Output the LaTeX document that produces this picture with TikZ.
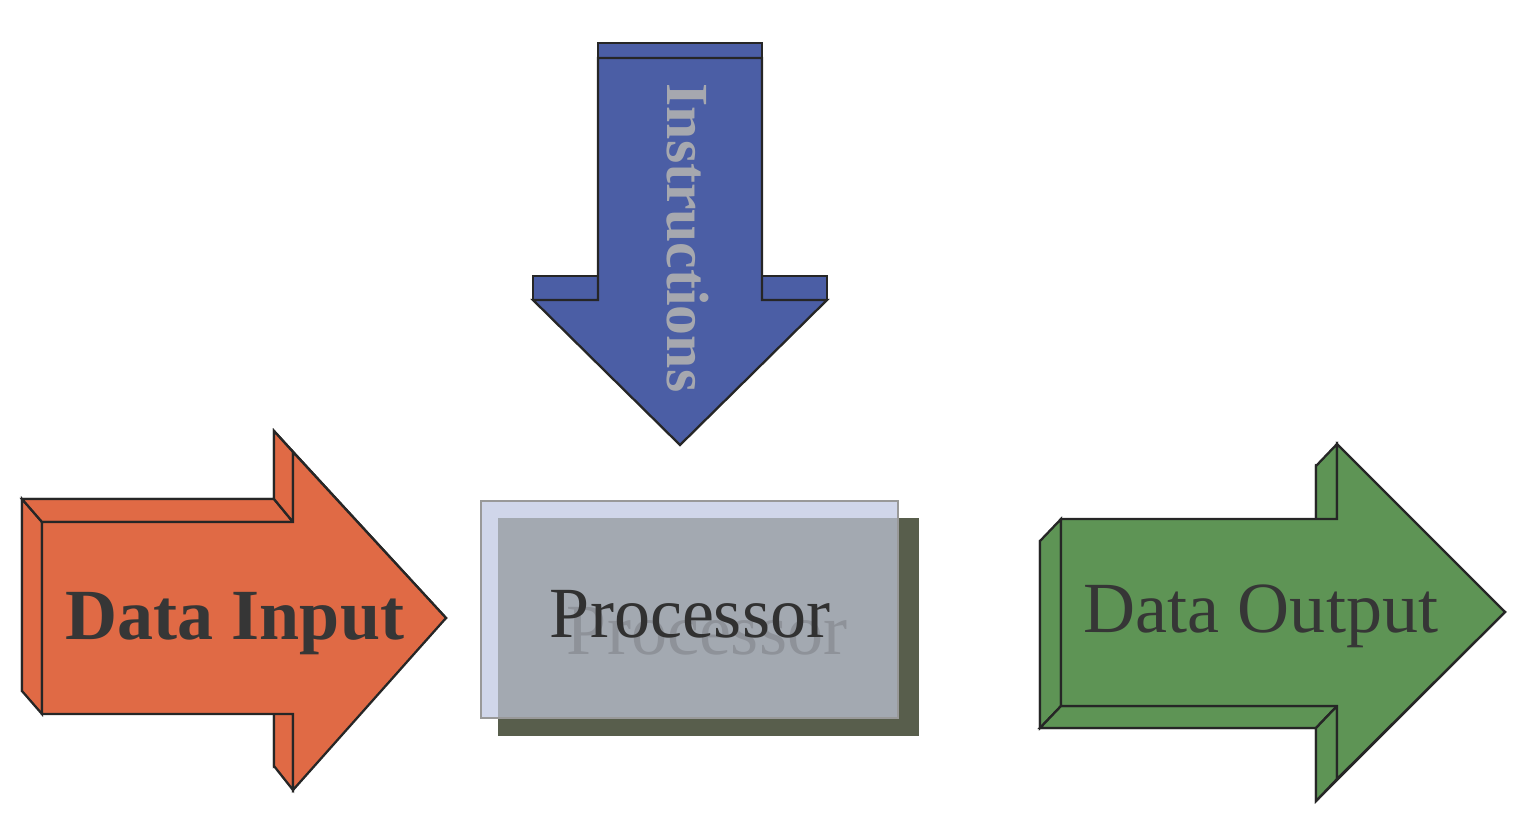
\documentclass[tikz,border=0pt]{standalone}
\usepackage{fontspec}
\setmainfont{Liberation Serif}
\definecolor{orangeA}{HTML}{E06A45}
\definecolor{greenA}{HTML}{5E9455}
\definecolor{blueA}{HTML}{4B5EA5}
\definecolor{lavA}{HTML}{D0D6EA}
\definecolor{shadA}{HTML}{585E4C}
\definecolor{grayA}{HTML}{A3A9B1}
\definecolor{txtA}{HTML}{363636}
\definecolor{instrA}{HTML}{A6A8AF}
\definecolor{ghostA}{HTML}{8E9299}
\begin{document}
\begin{tikzpicture}[x=0.02cm,y=-0.02cm,
  face/.style={draw=black!85, line width=1.3pt, line join=miter},
  lbl/.style={inner sep=0pt, anchor=base, font=\fontsize{41}{41}\selectfont, text=txtA}]
\useasboundingbox (0,0) rectangle (1520,828);

% ---------- Data Input (orange) ----------
\begin{scope}[every path/.style={face, fill=orangeA}]
\path (22,499) -- (274,499) -- (274,431) -- (446,618) -- (274,766) -- (274,691) -- (22,691) -- cycle;
\path (22,499) -- (42,522) -- (42,714) -- (22,691) -- cycle;
\path (22,499) -- (274,499) -- (293,522) -- (42,522) -- cycle;
\path (274,431) -- (293,452) -- (293,522) -- (274,499) -- cycle;
\path (274,691) -- (293,714) -- (293,790) -- (274,766) -- cycle;
\path (42,522) -- (293,522) -- (293,452) -- (446,618) -- (293,790) -- (293,714) -- (42,714) -- cycle;
\end{scope}
\node[lbl, font=\fontsize{41}{41}\selectfont\bfseries] (din) at (235,639) {Data Input};

% ---------- Data Output (green) ----------
\begin{scope}[every path/.style={face, fill=greenA}]
\path (1040,541) -- (1316,541) -- (1316,466) -- (1505,612) -- (1316,801) -- (1316,728) -- (1040,728) -- cycle;
\path (1040,541) -- (1061,519) -- (1061,706) -- (1040,728) -- cycle;
\path (1040,728) -- (1061,706) -- (1337,706) -- (1316,728) -- cycle;
\path (1316,466) -- (1337,444) -- (1337,519) -- (1316,541) -- cycle;
\path (1316,728) -- (1337,706) -- (1337,779) -- (1316,801) -- cycle;
\path (1061,519) -- (1337,519) -- (1337,444) -- (1505,612) -- (1337,779) -- (1337,706) -- (1061,706) -- cycle;
\end{scope}
\node[lbl] (dout) at (1261,632) {Data Output};

% ---------- Instructions (blue) ----------
\begin{scope}[every path/.style={face, fill=blueA}]
\path (598,43) rectangle (762,58);
\path (533,276) rectangle (598,300);
\path (762,276) rectangle (827,300);
\path (598,58) -- (762,58) -- (762,300) -- (827,300) -- (680,445) -- (533,300) -- (598,300) -- cycle;
\end{scope}
\node[inner sep=0pt, anchor=base, rotate=-90, font=\fontsize{34}{34}\selectfont\bfseries, text=instrA] (instr) at (667,238) {Instructions};

% ---------- Processor ----------
\fill[shadA] (498,518) rectangle (919,736);
\fill[lavA] (481,501) rectangle (898,718);
\fill[grayA] (498,518) rectangle (898,718);
\draw[draw=black!40, line width=0.6pt] (481,501) rectangle (898,718);
\node[lbl, text=ghostA] (procghost) at (707,654) {Processor};
\node[lbl, text=txtA!90!black] (proc) at (690,637) {Processor};
\end{tikzpicture}
\end{document}
